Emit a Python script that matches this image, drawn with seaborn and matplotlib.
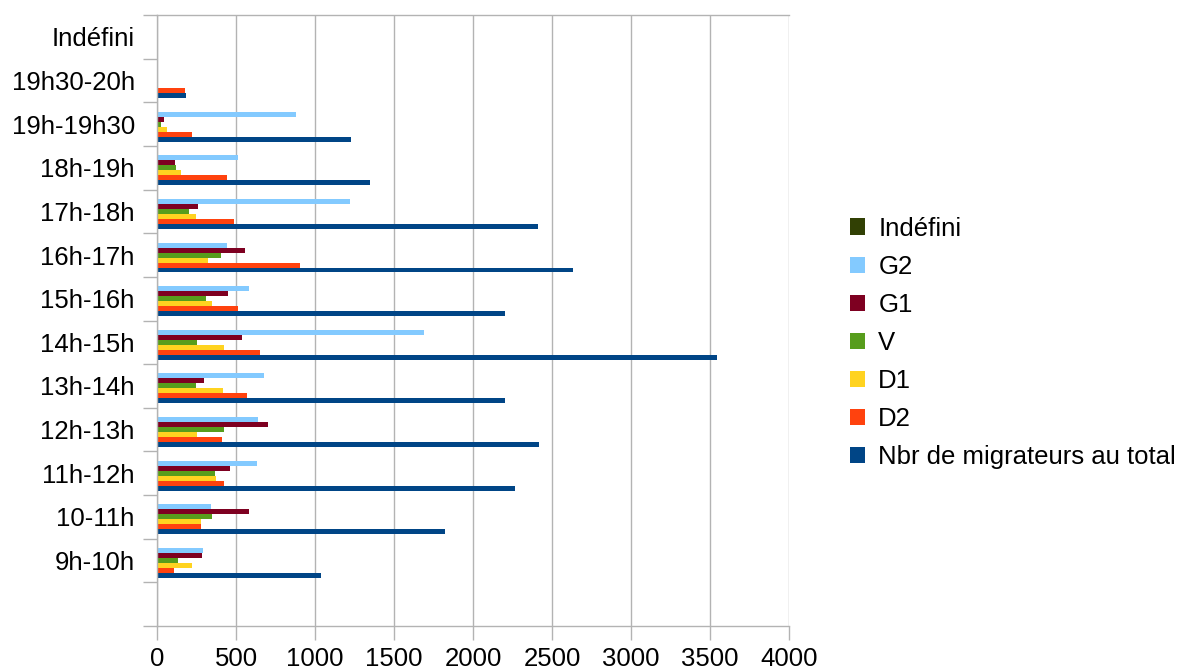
import numpy as np
import pandas as pd
import matplotlib
matplotlib.use("Agg")
import matplotlib.pyplot as plt
import seaborn as sns

# time slots, top to bottom
slots = ["Indéfini", "19h30-20h", "19h-19h30", "18h-19h", "17h-18h", "16h-17h",
         "15h-16h", "14h-15h", "13h-14h", "12h-13h", "11h-12h", "10-11h", "9h-10h"]

indefini = [0, 0, 0, 0, 0, 0, 0, 0, 0, 0, 0, 0, 0]
g2 = [0, 0, 880, 515, 1220, 445, 585, 1690, 680, 640, 635, 340, 290]
g1 = [0, 0, 45, 115, 260, 560, 450, 540, 295, 705, 460, 580, 285]
v = [0, 0, 25, 120, 200, 405, 310, 250, 245, 425, 370, 345, 135]
d1 = [0, 0, 65, 155, 245, 325, 345, 425, 415, 255, 375, 280, 220]
d2 = [0, 175, 220, 445, 490, 905, 515, 655, 570, 410, 425, 280, 110]
total = [5, 185, 1225, 1350, 2410, 2635, 2205, 3545, 2205, 2420, 2265, 1825, 1040]

series = ["Indéfini", "G2", "G1", "V", "D1", "D2", "Nbr de migrateurs au total"]
colors = ["#314004", "#83caff", "#7e0021", "#579d1c", "#ffd320", "#ff420e", "#004586"]

values = [indefini, g2, g1, v, d1, d2, total]
rows = []
for name, vals in zip(series, values):
    for slot, val in zip(slots, vals):
        rows.append({"slot": slot, "serie": name, "n": val})
df = pd.DataFrame(rows)

sns.set_theme(style="white")
plt.rcParams["font.family"] = ["Liberation Sans", "DejaVu Sans"]
plt.rcParams["text.color"] = "black"

fig = plt.figure(figsize=(11.96, 6.70), dpi=100)
ax = fig.add_axes([157 / 1196, 1 - 626 / 670, 632 / 1196, 611 / 670])

sns.barplot(data=df, y="slot", x="n", hue="serie", order=slots, hue_order=series,
            palette=colors, orient="h", saturation=1, linewidth=0, width=0.8, ax=ax)

ax.set_xlim(0, 4000)
ax.set_ylim(len(slots) + 0.5, -0.5)
ax.set_xticks(np.arange(0, 4001, 500))
ax.xaxis.grid(True, color="#b3b3b3", linewidth=1)
ax.set_axisbelow(True)
ax.set_xlabel("")
ax.set_ylabel("")

ax.set_yticks(np.arange(len(slots)))
ax.set_yticklabels(slots)
ax.set_yticks(np.arange(-0.5, len(slots) + 0.6, 1), minor=True)
ax.tick_params(axis="y", which="major", length=0, labelsize=18.5, pad=16, colors="black")
ax.tick_params(axis="y", which="minor", length=10, color="#b3b3b3", width=1, left=True)
ax.tick_params(axis="x", length=10, width=1, labelsize=18.5, pad=5,
               bottom=True, colors="#b3b3b3", labelcolor="black")

for side in ["left", "bottom", "top"]:
    ax.spines[side].set_color("#b3b3b3")
    ax.spines[side].set_linewidth(1)
ax.spines["right"].set_visible(False)

handles, labels = ax.get_legend_handles_labels()
leg = ax.legend(handles, labels, loc="center left", bbox_to_anchor=(850 / 1196, 1 - 343 / 670),
                bbox_transform=fig.transFigure, frameon=False, fontsize=18.5,
                handlelength=0.6, handleheight=0.6, handletextpad=0.5, labelspacing=0.55,
                borderaxespad=0, borderpad=0)
for t in leg.get_texts():
    t.set_color("black")

fig.savefig("out.png", dpi=100, facecolor="white")
